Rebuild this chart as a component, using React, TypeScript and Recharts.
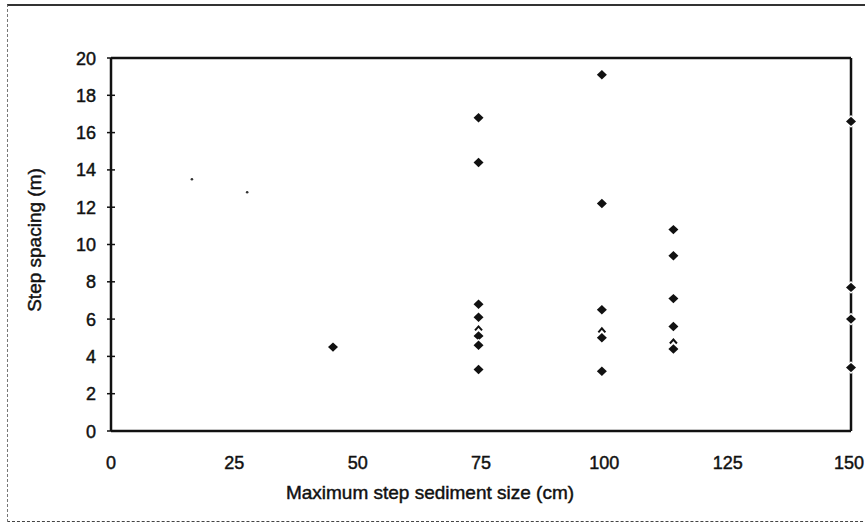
import React from "react";
import {
  ScatterChart,
  Scatter,
  XAxis,
  YAxis,
  ReferenceLine,
} from "recharts";

const FONT = "'Liberation Sans', Arial, sans-serif";
const INK = "#111";

// x positions of the point columns (cm)
const SIZE_CM = [45, 74.5, 99.5, 114, 150];
// step spacing for each column (m)
const SPACING_M = [
  [4.5],
  [16.8, 14.4, 6.8, 6.1, 5.1, 4.6, 3.3],
  [19.1, 12.2, 6.5, 5.0, 3.2],
  [10.8, 9.4, 7.1, 5.6, 4.4],
  [16.6, 7.7, 6.0, 3.4],
];
// half-printed markers
const PARTIAL_SIZE = [74.5, 99.5, 114];
const PARTIAL_SPACING = [5.5, 5.4, 4.8];
// faint specks in the upper left
const SPECK_SIZE = [16.4, 27.6];
const SPECK_SPACING = [13.5, 12.8];

const X_TICKS = [0, 25, 50, 75, 100, 125, 150];
const Y_TICKS = [0, 2, 4, 6, 8, 10, 12, 14, 16, 18, 20];

const points = SIZE_CM.flatMap((x, i) => SPACING_M[i].map((y) => ({ x, y })));
const partials = PARTIAL_SIZE.map((x, i) => ({ x, y: PARTIAL_SPACING[i] }));
const specks = SPECK_SIZE.map((x, i) => ({ x, y: SPECK_SPACING[i] }));

const textStyle = {
  fontFamily: FONT,
  fontSize: 19,
  fill: INK,
  stroke: INK,
  strokeWidth: 0.45,
};
const tickStyle = { ...textStyle, fontSize: 18 };

function Diamond(props: any) {
  const { cx, cy } = props;
  if (cx == null || cy == null) return null;
  return (
    <polygon
      points={`${cx - 5},${cy} ${cx},${cy - 4.7} ${cx + 5},${cy} ${cx},${cy + 4.7}`}
      fill={INK}
      stroke="#fff"
      strokeWidth={2.5}
      paintOrder="stroke"
    />
  );
}

function Chevron(props: any) {
  const { cx, cy } = props;
  if (cx == null || cy == null) return null;
  return (
    <polyline
      points={`${cx - 3.5},${cy + 2} ${cx},${cy - 2} ${cx + 3.5},${cy + 2}`}
      fill="none"
      stroke={INK}
      strokeWidth={2}
    />
  );
}

function Speck(props: any) {
  const { cx, cy } = props;
  if (cx == null || cy == null) return null;
  return <circle cx={cx} cy={cy} r={1.3} fill="#333" />;
}

function YTick(props: any) {
  const { x, y, payload } = props;
  const axisX = x + 15;
  return (
    <g>
      <line x1={axisX - 4} x2={axisX + 4} y1={y} y2={y} stroke={INK} strokeWidth={1.5} />
      <text x={x} y={y} dy={6.5} textAnchor="end" style={tickStyle}>
        {payload.value}
      </text>
    </g>
  );
}

function XTick(props: any) {
  const { x, y, payload } = props;
  // keep the last label inside the frame
  const tx = payload.value === 150 ? x - 2 : x;
  return (
    <text x={tx} y={y} dy={38} textAnchor="middle" style={tickStyle}>
      {payload.value}
    </text>
  );
}

export default function App() {
  return (
    <div style={{ position: "absolute", left: 0, top: 0, width: 865, height: 522, background: "#fff", overflow: "hidden" }}>
      <div
        style={{
          position: "absolute",
          left: 7,
          top: 4,
          width: 870,
          height: 515,
          borderTop: "2px solid #333",
          borderLeft: "1px dashed #777",
          borderBottom: "1px dashed #444",
          pointerEvents: "none",
        }}
      />
      <ScatterChart width={865} height={522} margin={{ top: 58, right: 14, left: 41, bottom: 41 }}>
        <XAxis
          type="number"
          dataKey="x"
          domain={[0, 150]}
          ticks={X_TICKS}
          interval={0}
          height={50}
          tickSize={0}
          tickMargin={0}
          tickLine={false}
          axisLine={{ stroke: INK, strokeWidth: 2.5 }}
          tick={<XTick />}
          label={{
            content: () => (
              <text x={430} y={499} textAnchor="middle" style={textStyle}>
                Maximum step sediment size (cm)
              </text>
            ),
          }}
        />
        <YAxis
          type="number"
          dataKey="y"
          domain={[0, 20]}
          ticks={Y_TICKS}
          interval={0}
          width={70}
          tickSize={0}
          tickMargin={15}
          tickLine={false}
          axisLine={{ stroke: INK, strokeWidth: 2.5 }}
          tick={<YTick />}
          label={{
            content: () => (
              <text
                x={0}
                y={0}
                transform="translate(41 240) rotate(-90)"
                textAnchor="middle"
                style={textStyle}
              >
                Step spacing (m)
              </text>
            ),
          }}
        />
        <ReferenceLine y={20} stroke={INK} strokeWidth={2.5} />
        <ReferenceLine x={150} stroke={INK} strokeWidth={2.5} />
        <Scatter data={specks} shape={<Speck />} isAnimationActive={false} />
        <Scatter data={partials} shape={<Chevron />} isAnimationActive={false} />
        <Scatter data={points} shape={<Diamond />} isAnimationActive={false} />
      </ScatterChart>
    </div>
  );
}
